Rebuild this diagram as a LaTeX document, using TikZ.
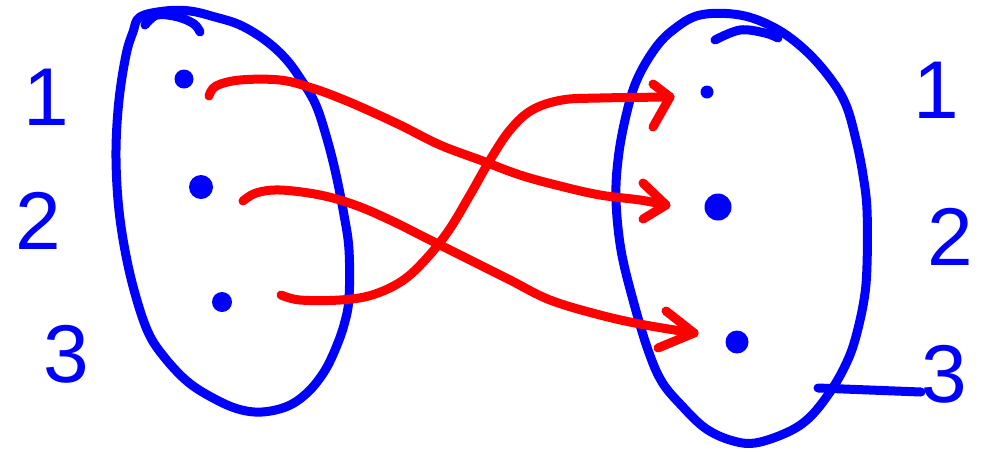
\documentclass[tikz,border=0pt]{standalone}
\usepackage{fontspec}
\setmainfont{Liberation Sans}
\definecolor{pblue}{RGB}{0,0,255}
\definecolor{pred}{RGB}{255,0,0}
\tikzset{
  setline/.style={draw=pblue,line width=9pt,line cap=round,line join=round},
  mapline/.style={draw=pred,line width=9pt,line cap=round,line join=round},
  elem/.style={circle,fill=pblue,inner sep=0pt},
  digit/.style={text=pblue,inner sep=0pt,font=\fontsize{82}{82}\selectfont}
}
\begin{document}
\begin{tikzpicture}[x=1pt,y=-1pt]
\useasboundingbox (0,0) rectangle (984,451);
% left set
\draw[setline] plot[smooth cycle,tension=0.6] coordinates{
 (140,17) (165,11) (190,11) (215,17) (240,25) (265,40) (285,58) (300,78) (315,103)
 (325,132) (335,170) (344,215) (349,250) (349,298) (344,325) (335,350) (324,372)
 (308,392) (288,406) (262,412) (238,409) (213,398) (188,382) (165,358) (148,332)
 (134,290) (124,245) (118,200) (116,150) (119,100) (126,55) (133,32)};
\draw[setline] plot[smooth,tension=0.6] coordinates{(145,25) (157,15) (178,17) (194,24) (200,32)};
% right set
\draw[setline] plot[smooth cycle,tension=0.6] coordinates{
 (700,15) (740,15) (775,28) (805,50) (830,78) (846,105) (856,140) (863,175)
 (867,210) (867,265) (864,300) (855,340) (845,366) (830,392) (810,417) (788,432)
 (755,443) (730,440) (705,428) (682,406) (662,382) (648,350) (633,300) (621,250)
 (616,200) (618,160) (625,120) (636,82) (654,50) (673,30)};
\draw[setline] plot[smooth,tension=0.6] coordinates{(715,40) (740,30) (765,33) (778,38)};
% elements
\node[elem,minimum size=19pt] (a1) at (184,79) {};
\node[elem,minimum size=24pt] (a2) at (201,187) {};
\node[elem,minimum size=20pt] (a3) at (222,302) {};
\node[elem,minimum size=13pt] (b1) at (707,92) {};
\node[elem,minimum size=27pt] (b2) at (718,207) {};
\node[elem,minimum size=23pt] (b3) at (737,342) {};
% labels
\node[digit] (la1) at (46,97) {1};
\node[digit] (la2) at (38,221) {2};
\node[digit] (la3) at (66,354) {3};
\node[digit] (lb1) at (936,90) {1};
\node[digit] (lb2) at (950,237) {2};
\node[digit] (lb3) at (944,374) {3};
\coordinate (tick) at (818,388);
\draw[setline] (tick) -- ([yshift=-18pt]lb3.west);
% maps
\coordinate (s1) at (209,96);
\coordinate (e1) at (666,205);
\coordinate (s2) at (243,201);
\coordinate (e2) at (694,333);
\coordinate (s3) at (281,295);
\coordinate (e3) at (670,97);
\draw[mapline] plot[smooth,tension=0.6] coordinates{(s1) (216,86) (240,80) (280,80) (312,88)
 (342,99) (372,112) (402,126) (440,145) (480,160) (520,175) (560,186) (600,195) (640,200) (e1)};
\draw[mapline] (643,183) -- (e1) -- (643,219);
\draw[mapline] plot[smooth,tension=0.6] coordinates{(s2) (256,193) (280,190) (320,195) (355,205)
 (390,220) (430,240) (470,260) (510,280) (550,300) (600,315) (645,325) (e2)};
\draw[mapline] (666,311) -- (e2) -- (658,348);
\draw[mapline] plot[smooth,tension=0.6] coordinates{(s3) (300,300) (340,300) (372,295) (402,281)
 (426,259) (449,230) (470,195) (490,160) (510,130) (532,110) (562,100) (600,98) (e3)};
\draw[mapline] (653,84) -- (e3) -- (653,127);
\end{tikzpicture}
\end{document}
